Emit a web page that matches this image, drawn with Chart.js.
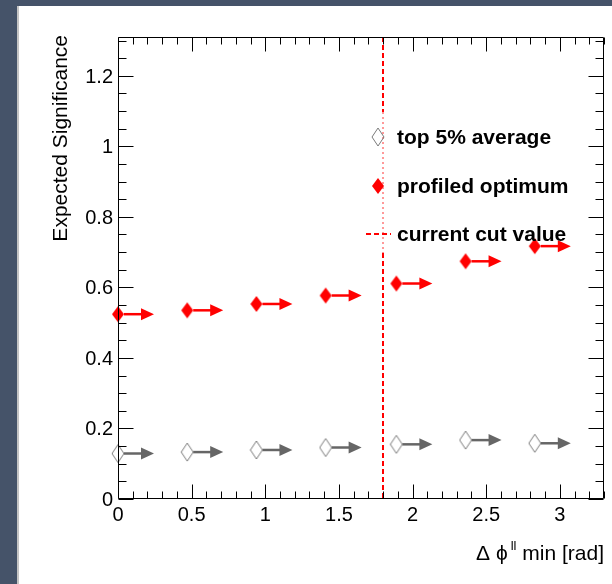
<!DOCTYPE html>
<html>
<head>
<meta charset="utf-8">
<title>Expected Significance</title>
<script src="https://cdn.jsdelivr.net/npm/chart.js@4.4.1/dist/chart.umd.min.js"></script>
<style>
  html, body { margin: 0; padding: 0; }
  body { width: 612px; height: 584px; background: #455369; position: relative; overflow: hidden; }
  #pad { position: absolute; left: 17px; top: 6px; width: 593px; height: 578px; background: #fff; border-left: 2px solid #c4c4c4; }
  #chart { display: block; }
</style>
</head>
<body>
<div id="pad"><canvas id="chart" width="593" height="578"></canvas></div>
<script>
// Lower cut values on delta phi (rad) and the two significance series
const cutValues = [0, 0.47, 0.94, 1.41, 1.89, 2.36, 2.83];
const top5Average = [0.129, 0.133, 0.139, 0.146, 0.155, 0.167, 0.158];
const profiledOptimum = [0.524, 0.535, 0.553, 0.577, 0.611, 0.674, 0.717];
const currentCut = 1.8;

// Axis ticks
const xTicks = [0, 0.5, 1, 1.5, 2, 2.5, 3];
const xTickLabels = ['0', '0.5', '1', '1.5', '2', '2.5', '3'];
const yTicks = [0, 0.2, 0.4, 0.6, 0.8, 1, 1.2];
const yTickLabels = ['0', '0.2', '0.4', '0.6', '0.8', '1', '1.2'];
const legendLabels = ['top 5% average', 'profiled optimum', 'current cut value'];

const FONT = '"Liberation Sans", Arial, Helvetica, sans-serif';

// Diamond marker drawn on a small canvas, used as the point style
function diamond(w, h, fill, stroke) {
    const c = document.createElement('canvas');
    c.width = w + 2;
    c.height = h + 2;
    const g = c.getContext('2d');
    g.beginPath();
    g.moveTo(w / 2 + 1, 1);
    g.lineTo(w + 1, h / 2 + 1);
    g.lineTo(w / 2 + 1, h + 1);
    g.lineTo(1, h / 2 + 1);
    g.closePath();
    if (fill) { g.fillStyle = fill; g.fill(); }
    if (stroke) { g.strokeStyle = stroke; g.lineWidth = 1; g.stroke(); }
    return c;
}
const openDiamond = diamond(12, 18, null, '#7a7a7a');
const redDiamond = diamond(12, 16, '#ff0000', null);

// Arrow pointing right from each point (cut is a lower bound)
function drawArrow(ctx, x, y, color) {
    ctx.save();
    ctx.strokeStyle = color;
    ctx.fillStyle = color;
    ctx.lineWidth = 2.5;
    ctx.beginPath();
    ctx.moveTo(x + 6, y);
    ctx.lineTo(x + 24, y);
    ctx.stroke();
    ctx.beginPath();
    ctx.moveTo(x + 23, y - 6);
    ctx.lineTo(x + 36, y);
    ctx.lineTo(x + 23, y + 6);
    ctx.closePath();
    ctx.fill();
    ctx.restore();
}

const arrowPlugin = {
    id: 'arrows',
    afterDatasetsDraw(chart) {
        const ctx = chart.ctx;
        chart.data.datasets.forEach((ds, i) => {
            chart.getDatasetMeta(i).data.forEach(pt => drawArrow(ctx, pt.x, pt.y, ds.arrowColor));
        });
    }
};

// ROOT style frame: ticks inside on all four sides, labels, titles, legend, cut line
const framePlugin = {
    id: 'frame',
    afterDraw(chart) {
        const ctx = chart.ctx;
        const a = chart.chartArea;
        const xs = chart.scales.x;
        const ys = chart.scales.y;
        const L = Math.round(a.left) + 0.5, R = Math.round(a.right) - 0.5;
        const T = Math.round(a.top) + 0.5, B = Math.round(a.bottom) - 0.5;

        // vertical line at the current cut
        const cx = Math.round(xs.getPixelForValue(currentCut));
        const bandTop = 106, bandBottom = 247;
        ctx.save();
        ctx.lineWidth = 2;
        ctx.strokeStyle = '#ff0000';
        ctx.setLineDash([5, 3]);
        ctx.beginPath();
        ctx.moveTo(cx, a.top);
        ctx.lineTo(cx, bandTop);
        ctx.moveTo(cx, bandBottom);
        ctx.lineTo(cx, a.bottom);
        ctx.stroke();
        ctx.strokeStyle = 'rgba(255,0,0,0.4)';
        ctx.setLineDash([2, 3]);
        ctx.beginPath();
        ctx.moveTo(cx, bandTop);
        ctx.lineTo(cx, bandBottom);
        ctx.stroke();
        ctx.restore();

        ctx.save();
        ctx.strokeStyle = '#000';
        ctx.lineWidth = 1;
        ctx.beginPath();
        ctx.rect(L, T, R - L, B - T);
        // x ticks, major 0.5 and minor 0.1
        for (let i = 0; i <= 33; i++) {
            const v = i / 10;
            const px = Math.round(xs.getPixelForValue(v)) + 0.5;
            const len = (i % 5 === 0) ? 14 : 7;
            ctx.moveTo(px, B); ctx.lineTo(px, B - len);
            ctx.moveTo(px, T); ctx.lineTo(px, T + len);
        }
        // y ticks, major 0.2 and minor 0.05
        for (let i = 0; i <= 26; i++) {
            const v = i * 0.05;
            const py = Math.round(ys.getPixelForValue(v)) + 0.5;
            const len = (i % 4 === 0) ? 15 : 8;
            ctx.moveTo(L, py); ctx.lineTo(L + len, py);
            ctx.moveTo(R, py); ctx.lineTo(R - len, py);
        }
        ctx.stroke();

        // tick labels
        ctx.fillStyle = '#000';
        ctx.font = '20px ' + FONT;
        ctx.textBaseline = 'alphabetic';
        ctx.textAlign = 'center';
        xTicks.forEach((v, i) => ctx.fillText(xTickLabels[i], xs.getPixelForValue(v), a.bottom + 22));
        ctx.textAlign = 'right';
        yTicks.forEach((v, i) => ctx.fillText(yTickLabels[i], a.left - 5, ys.getPixelForValue(v) + 7));

        // y title, top aligned
        ctx.save();
        ctx.font = '21px ' + FONT;
        ctx.translate(48, 29);
        ctx.rotate(-Math.PI / 2);
        ctx.textAlign = 'right';
        ctx.fillText('Expected Significance', 0, 0);
        ctx.restore();

        // x title, right aligned, with superscript
        ctx.textAlign = 'left';
        const big = '21px ' + FONT, small = '13px ' + FONT;
        const head = '\u0394 \u03d5';
        ctx.font = big;
        const w1 = ctx.measureText(head).width;
        const w3 = ctx.measureText(' min [rad]').width;
        ctx.font = small;
        const w2 = ctx.measureText('ll').width;
        let tx = a.right - (w1 + 3 + w2 + w3);
        const base = a.bottom + 61;
        ctx.font = big;
        ctx.fillText(head, tx, base);
        tx += w1 + 3;
        ctx.font = small;
        ctx.fillText('ll', tx, base - 10);
        tx += w2;
        ctx.font = big;
        ctx.fillText(' min [rad]', tx, base);

        // legend
        const mx = 359, lx = 378;
        const rows = [131, 180, 228];
        ctx.drawImage(openDiamond, mx - openDiamond.width / 2, rows[0] - openDiamond.height / 2);
        ctx.drawImage(redDiamond, mx - redDiamond.width / 2, rows[1] - redDiamond.height / 2);
        ctx.strokeStyle = '#ff0000';
        ctx.lineWidth = 2;
        ctx.setLineDash([5, 3]);
        ctx.beginPath();
        ctx.moveTo(347, rows[2]);
        ctx.lineTo(372, rows[2]);
        ctx.stroke();
        ctx.setLineDash([]);
        ctx.font = 'bold 21px ' + FONT;
        ctx.fillStyle = '#000';
        legendLabels.forEach((t, i) => ctx.fillText(t, lx, rows[i] + 7));
        ctx.restore();
    }
};

const ctx = document.getElementById('chart').getContext('2d');
new Chart(ctx, {
    type: 'scatter',
    data: {
        datasets: [
            {
                label: legendLabels[0],
                data: cutValues.map((x, i) => ({ x, y: top5Average[i] })),
                pointStyle: openDiamond,
                arrowColor: '#666666',
                clip: false
            },
            {
                label: legendLabels[1],
                data: cutValues.map((x, i) => ({ x, y: profiledOptimum[i] })),
                pointStyle: redDiamond,
                arrowColor: '#ff0000',
                clip: false
            }
        ]
    },
    options: {
        responsive: false,
        animation: false,
        layout: { padding: { left: 99, top: 31, right: 8, bottom: 85 } },
        plugins: { legend: { display: false }, tooltip: { enabled: false } },
        events: [],
        scales: {
            x: { type: 'linear', min: 0, max: 3.3, display: false },
            y: { type: 'linear', min: 0, max: 1.31, display: false }
        }
    },
    plugins: [arrowPlugin, framePlugin]
});
</script>
</body>
</html>
